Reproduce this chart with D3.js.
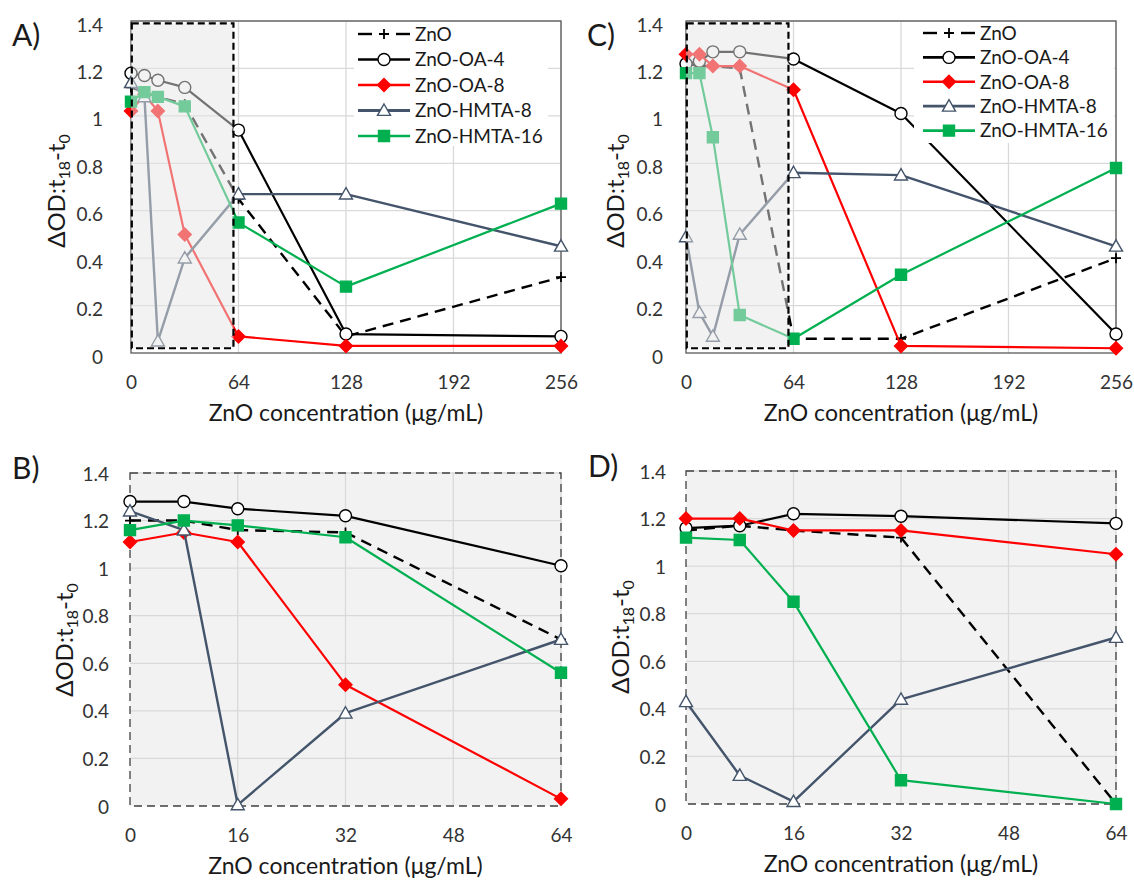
<!DOCTYPE html>
<html>
<head>
<meta charset="utf-8">
<script src="https://cdn.jsdelivr.net/npm/d3@7"></script>
<style>
  body { margin: 0; background: #fff; }
  svg { display: block; }
  text { font-family: Lato, "Open Sans", "DejaVu Sans", sans-serif; }
</style>
</head>
<body>
<svg id="fig" width="1134" height="881"></svg>
<script>
// ---- data ----
const concWide = [0, 8, 16, 32, 64, 128, 256];
const concNarrow = [0, 8, 16, 32, 64];
const ticksWide = [0, 64, 128, 192, 256];
const ticksNarrow = [0, 16, 32, 48, 64];
const odTicks = [0, 0.2, 0.4, 0.6, 0.8, 1, 1.2, 1.4];
const seriesNames = ["ZnO", "ZnO-OA-4", "ZnO-OA-8", "ZnO-HMTA-8", "ZnO-HMTA-16"];

// panel A
const aZnO    = [1.12, 1.10, 1.08, 1.05, 0.65, 0.07, 0.32];
const aOA4    = [1.18, 1.17, 1.15, 1.12, 0.94, 0.08, 0.07];
const aOA8    = [1.02, 1.09, 1.02, 0.50, 0.07, 0.03, 0.03];
const aHMTA8  = [1.14, 1.08, 0.05, 0.40, 0.67, 0.67, 0.45];
const aHMTA16 = [1.06, 1.10, 1.08, 1.04, 0.55, 0.28, 0.63];

// panel B
const bZnO    = [1.20, 1.20, 1.16, 1.15, 0.70];
const bOA4    = [1.28, 1.28, 1.25, 1.22, 1.01];
const bOA8    = [1.11, 1.15, 1.11, 0.51, 0.03];
const bHMTA8  = [1.24, 1.16, 0.005, 0.39, 0.70];
const bHMTA16 = [1.16, 1.20, 1.18, 1.13, 0.56];

// panel C
const cZnO    = [1.22, 1.21, 1.21, 1.20, 0.06, 0.06, 0.40];
const cOA4    = [1.22, 1.23, 1.27, 1.27, 1.24, 1.01, 0.08];
const cOA8    = [1.26, 1.26, 1.21, 1.21, 1.11, 0.03, 0.02];
const cHMTA8  = [0.49, 0.17, 0.07, 0.50, 0.76, 0.75, 0.45];
const cHMTA16 = [1.18, 1.18, 0.91, 0.16, 0.06, 0.33, 0.78];

// panel D
const dZnO    = [1.15, 1.17, 1.15, 1.12, 0.00];
const dOA4    = [1.16, 1.17, 1.22, 1.21, 1.18];
const dOA8    = [1.20, 1.20, 1.15, 1.15, 1.05];
const dHMTA8  = [0.43, 0.12, 0.01, 0.44, 0.70];
const dHMTA16 = [1.12, 1.11, 0.85, 0.10, 0.00];

// low-concentration window highlighted in the wide panels (x, y in data units)
const windowX = [0, 61];
const windowY = [0.02, 1.39];

// ---- styles ----
const styles = [
  { color: "#000000", dash: "11,7", width: 2.4, marker: "plus",     r: 5,   fill: "none" },
  { color: "#000000", dash: null,   width: 2.2, marker: "circle",   r: 6,   fill: "#ffffff" },
  { color: "#ff0000", dash: null,   width: 2.2, marker: "diamond",  r: 6.5, fill: "#ff0000" },
  { color: "#44546a", dash: null,   width: 2.4, marker: "triangle", r: 6.5, fill: "#ffffff" },
  { color: "#00b050", dash: null,   width: 2.2, marker: "square",   r: 5.5, fill: "#00b050" }
];

const markerPath = {
  circle:   r => `M${r},0A${r},${r} 0 1,1 ${-r},0A${r},${r} 0 1,1 ${r},0Z`,
  diamond:  r => `M0,${-r}L${r},0L0,${r}L${-r},0Z`,
  triangle: r => `M0,${-r}L${r},${r * 0.75}L${-r},${r * 0.75}Z`,
  square:   r => `M${-r},${-r}H${r}V${r}H${-r}Z`,
  plus:     r => `M${-r},0H${r}M0,${-r}V${r}`
};

const panels = [
  { letter: "A)", conc: concWide, ticks: ticksWide, series: [aZnO, aOA4, aOA8, aHMTA8, aHMTA16],
    left: 131, right: 561, top: 21, bottom: 353, kind: "wide",
    letterPos: [12, 46], yTitle: [65, 191], tickRight: 103, tickShift: 4,
    legend: { box: [354, 22, 548, 146], y0: 34, step: 25.5, x0: 358, x1: 410, tx: 415 } },
  { letter: "C)", conc: concWide, ticks: ticksWide, series: [cZnO, cOA4, cOA8, cHMTA8, cHMTA16],
    left: 686, right: 1116, top: 21, bottom: 353, kind: "wide",
    letterPos: [587, 46], yTitle: [624, 191], tickRight: 663, tickShift: 4,
    legend: { box: [914, 22, 1114, 143], y0: 33, step: 24.4, x0: 923, x1: 975, tx: 980 } },
  { letter: "B)", conc: concNarrow, ticks: ticksNarrow, series: [bZnO, bOA4, bOA8, bHMTA8, bHMTA16],
    left: 130, right: 561, top: 473, bottom: 806, kind: "narrow",
    letterPos: [12, 479], yTitle: [73, 640], tickRight: 109, tickShift: 1 },
  { letter: "D)", conc: concNarrow, ticks: ticksNarrow, series: [dZnO, dOA4, dOA8, dHMTA8, dHMTA16],
    left: 686, right: 1116, top: 471, bottom: 804, kind: "narrow",
    letterPos: [588, 477], yTitle: [629, 637], tickRight: 666, tickShift: 1 }
];

const svg = d3.select("#fig");
const fmt = d3.format("~g");

panels.forEach(p => {
  const x = d3.scaleLinear().domain([p.ticks[0], p.ticks[p.ticks.length - 1]]).range([p.left, p.right]);
  const y = d3.scaleLinear().domain([0, 1.4]).range([p.bottom, p.top]);
  const g = svg.append("g");

  // plot background
  if (p.kind === "narrow") {
    g.append("rect").attr("x", p.left).attr("y", p.top)
      .attr("width", p.right - p.left).attr("height", p.bottom - p.top)
      .attr("fill", "#f2f2f2");
  }

  // gridlines
  g.append("g").selectAll("line.h").data(odTicks.filter(v => v > 0)).join("line")
    .attr("x1", p.left).attr("x2", p.right)
    .attr("y1", d => y(d)).attr("y2", d => y(d))
    .attr("stroke", "#d9d9d9").attr("stroke-width", 1.3);
  g.append("g").selectAll("line.v").data(p.ticks.filter(v => v > 0)).join("line")
    .attr("x1", d => x(d)).attr("x2", d => x(d))
    .attr("y1", p.top).attr("y2", p.bottom)
    .attr("stroke", "#d9d9d9").attr("stroke-width", 1.3);

  // frame
  if (p.kind === "wide") {
    g.append("rect").attr("x", p.left).attr("y", p.top)
      .attr("width", p.right - p.left).attr("height", p.bottom - p.top)
      .attr("fill", "none").attr("stroke", "#595959").attr("stroke-width", 1.3);
  } else {
    g.append("rect").attr("x", p.left).attr("y", p.top)
      .attr("width", p.right - p.left).attr("height", p.bottom - p.top)
      .attr("fill", "none").attr("stroke", "#404040").attr("stroke-width", 1.3)
      .attr("stroke-dasharray", "8,5");
  }

  // series
  const line = d3.line().x(d => x(d.c)).y(d => y(d.v));
  p.series.forEach((vals, si) => {
    const st = styles[si];
    const pts = vals.map((v, i) => ({ c: p.conc[i], v }));
    g.append("path").datum(pts).attr("d", line)
      .attr("fill", "none").attr("stroke", st.color).attr("stroke-width", st.width)
      .attr("stroke-linejoin", "round")
      .attr("stroke-dasharray", st.dash);
    g.append("g").selectAll("path").data(pts).join("path")
      .attr("transform", d => `translate(${x(d.c)},${y(d.v)})`)
      .attr("d", markerPath[st.marker](st.r))
      .attr("fill", st.fill).attr("stroke", st.color)
      .attr("stroke-width", st.marker === "plus" ? 1.8 : 1.4);
  });

  // highlighted low-concentration window
  if (p.kind === "wide") {
    const wx = x(windowX[0]), wr = x(windowX[1]);
    const wt = y(windowY[1]), wb = y(windowY[0]);
    g.append("rect").attr("x", wx).attr("y", wt).attr("width", wr - wx).attr("height", wb - wt)
      .attr("fill", "rgb(230,230,230)").attr("fill-opacity", 0.5);
    g.append("rect").attr("x", wx + 0.8).attr("y", wt).attr("width", wr - wx - 0.8).attr("height", wb - wt)
      .attr("fill", "none").attr("stroke", "#000").attr("stroke-width", 2.2)
      .attr("stroke-dasharray", "7,4");
  }

  // legend
  if (p.legend) {
    const L = p.legend;
    g.append("rect").attr("x", L.box[0]).attr("y", L.box[1])
      .attr("width", L.box[2] - L.box[0]).attr("height", L.box[3] - L.box[1]).attr("fill", "#fff");
    seriesNames.forEach((name, si) => {
      const st = styles[si];
      const ly = L.y0 + si * L.step;
      const mid = (L.x0 + L.x1) / 2;
      if (st.dash) {
        g.append("line").attr("x1", L.x0).attr("x2", L.x0 + 14).attr("y1", ly).attr("y2", ly)
          .attr("stroke", st.color).attr("stroke-width", st.width);
        g.append("line").attr("x1", L.x1 - 14).attr("x2", L.x1).attr("y1", ly).attr("y2", ly)
          .attr("stroke", st.color).attr("stroke-width", st.width);
      } else {
        g.append("line").attr("x1", L.x0).attr("x2", L.x1).attr("y1", ly).attr("y2", ly)
          .attr("stroke", st.color).attr("stroke-width", st.width + 0.4);
      }
      g.append("path").attr("transform", `translate(${mid},${ly})`)
        .attr("d", markerPath[st.marker](st.r))
        .attr("fill", st.fill).attr("stroke", st.color)
        .attr("stroke-width", st.marker === "plus" ? 1.8 : 1.4);
      g.append("text").attr("x", L.tx).attr("y", ly).attr("dy", "0.36em")
        .attr("font-size", 19).attr("fill", "#1a1a1a").text(name);
    });
  }

  // y axis labels
  const yAxis = d3.axisLeft(y).tickValues(odTicks).tickFormat(fmt).tickSize(0).tickPadding(0);
  const ya = g.append("g").attr("transform", `translate(${p.tickRight},${p.tickShift})`).call(yAxis);
  ya.select(".domain").remove();
  ya.selectAll("text").attr("font-size", 19).attr("fill", "#333").attr("font-family", "Lato, sans-serif");

  // x axis labels
  const xAxis = d3.axisBottom(x).tickValues(p.ticks).tickFormat(fmt).tickSize(0).tickPadding(0);
  const xa = g.append("g").attr("transform", `translate(0,${p.bottom + 29})`).call(xAxis);
  xa.select(".domain").remove();
  xa.selectAll("text").attr("dy", "0.36em").attr("font-size", 19).attr("fill", "#333")
    .attr("font-family", "Lato, sans-serif");

  // axis titles
  g.append("text").attr("x", (p.left + p.right) / 2).attr("y", p.bottom + 68)
    .attr("text-anchor", "middle").attr("font-size", 23).attr("fill", "#1a1a1a")
    .text("ZnO concentration (μg/mL)");

  const yt = g.append("text")
    .attr("transform", `translate(${p.yTitle[0]},${p.yTitle[1]}) rotate(-90)`)
    .attr("text-anchor", "middle").attr("font-size", 24).attr("fill", "#1a1a1a");
  yt.append("tspan").text("ΔOD:t");
  yt.append("tspan").attr("font-size", 16).attr("dy", 5).text("18");
  yt.append("tspan").attr("dy", -5).text("-t");
  yt.append("tspan").attr("font-size", 16).attr("dy", 5).text("0");

  // panel letter
  g.append("text").attr("x", p.letterPos[0]).attr("y", p.letterPos[1])
    .attr("font-size", 30).attr("fill", "#1a1a1a").text(p.letter);
});
</script>
</body>
</html>
